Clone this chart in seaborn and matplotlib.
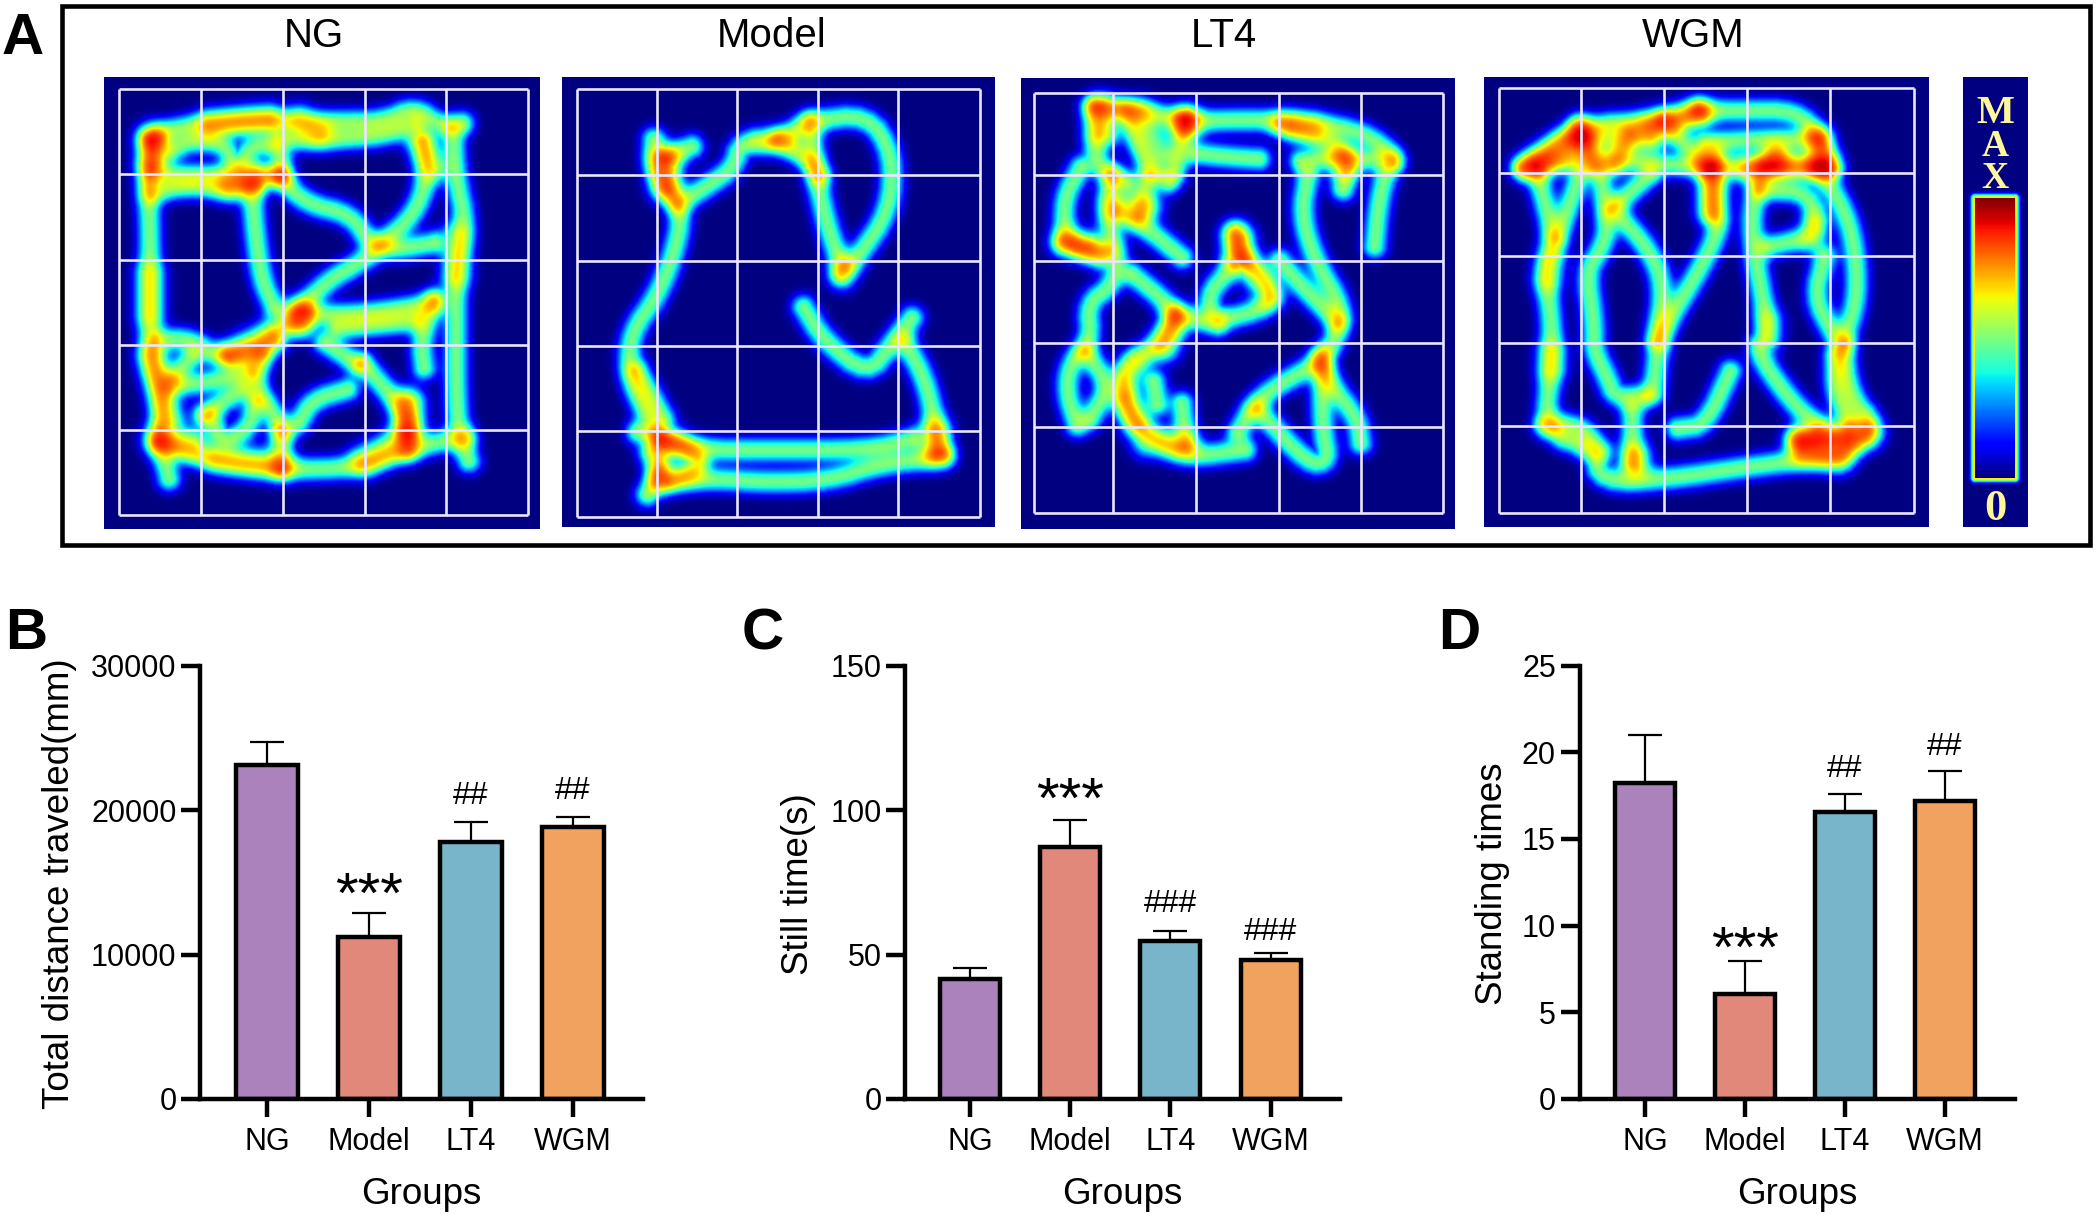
import numpy as np
import pandas as pd
import matplotlib
matplotlib.use("Agg")
import matplotlib.pyplot as plt
import seaborn as sns
from matplotlib.patches import Rectangle

sns.set_theme(style="ticks")
plt.rcParams["font.family"] = ["Liberation Sans", "DejaVu Sans"]

W, H = 2095, 1214
groups = ["NG", "Model", "LT4", "WGM"]
bar_colors = ["#AC82BC", "#E2887B", "#78B5CA", "#F2A25F"]

distance_mean = [23130, 11200, 17800, 18850]
distance_err = [1570, 1700, 1350, 700]
still_mean = [41.4, 87.2, 54.7, 48.1]
still_err = [3.8, 9.2, 3.6, 2.5]
standing_mean = [18.24, 6.08, 16.57, 17.2]
standing_err = [2.76, 1.9, 1.03, 1.74]

# Activity tracks (crop pixel units)
ng_tracks = [
    [(240,400),(230,500),(235,620),(235,760),(235,880),(235,1000),(255,1120),(250,1230),(265,1340)],
    [(235,390),(270,360),(340,345),(415,335),(490,345),(530,340),(600,340),(650,300),(690,350),(725,345)],
    [(440,390),(520,390),(600,380),(650,350)],
    [(665,400),(670,500),(650,600),(600,680),(570,730),(510,790),(465,880),(420,950),(360,990)],
    [(710,370),(715,500),(730,620),(715,760),(715,900),(715,1100),(720,1220),(735,1290)],
    [(250,1240),(330,1290),(440,1315),(560,1310),(620,1270),(680,1240),(730,1225)],
    [(240,490),(290,490),(400,490),(440,490)],
    [(270,420),(300,395),(350,400),(370,470),(400,400),(440,420),(440,490)],
    [(240,540),(290,520),(360,530),(400,520)],
    [(395,530),(400,650),(410,780),(430,860)],
    [(440,500),(480,570),(550,600),(580,680),(620,700),(680,680)],
    [(490,880),(570,880),(680,850)],
    [(530,920),(650,900)],
    [(680,840),(660,960),(665,1030)],
    [(510,960),(560,1020)],
    [(250,950),(300,950),(340,1000),(400,1000),(430,960)],
    [(410,1000),(400,1080),(430,1160),(445,1210)],
    [(270,1080),(330,1070),(390,1040)],
    [(320,1160),(380,1090)],
    [(300,1000),(275,1050)],
    [(330,1170),(350,1240),(390,1200),(400,1130)],
    [(470,1180),(490,1120),(545,1090)],
    [(570,1020),(610,1100),(640,1170),(640,1260)],
    [(440,1210),(440,1310)],
]
ng_hot = [
    ([(240,390),(240,450)],1.0), ([(330,350),(420,335)],.7), ([(470,335),(500,370)],.5),
    ([(660,400),(680,470)],.6), ([(715,660),(715,770)],.45), ([(235,770),(235,880)],.4),
    ([(240,1000),(265,1170)],.7), ([(250,1230),(300,1240)],.8), ([(340,1280),(440,1300)],.6),
    ([(640,1130),(640,1200)],1.1), ([(630,1230),(570,1290)],.7), ([(360,990),(420,930)],.4),
    ([(470,880),(470,900)],1.3), ([(360,520),(400,490)],.6),
]

model_tracks = [
    [(1025,390),(1025,470),(1045,520),(1070,600),(1055,720),(1030,830),(990,930),(985,1040),(1010,1150),(1030,1210),(1040,1280),(1030,1350),(1015,1385)],
    [(1000,1040),(1040,1170)],
    [(1065,570),(1110,520),(1150,470),(1160,400),(1220,395),(1270,340),(1360,320),(1400,430),(1395,590),(1345,720),(1320,770)],
    [(1270,340),(1280,500),(1300,650),(1320,740)],
    [(1220,395),(1270,450),(1285,490)],
    [(1045,440),(1085,410)],
    [(1260,860),(1290,950),(1360,1050),(1400,960),(1430,890)],
    [(1420,960),(1450,1060),(1465,1170),(1475,1260)],
    [(1000,1210),(1100,1260),(1200,1260),(1360,1260),(1430,1230)],
    [(1030,1350),(1120,1340),(1200,1350),(1300,1345),(1380,1300),(1480,1280)],
    [(1040,1230),(1090,1270),(1100,1310),(1050,1345)],
    [(1020,1270),(1030,1310)],
]
model_hot = [([(1045,450),(1045,520)],1.1), ([(1465,1210),(1465,1260)],.8), ([(1060,1240),(1085,1290)],.3),
             ([(1190,395),(1240,395)],.25), ([(1320,750),(1320,770)],.25)]

lt4_tracks = [
    [(135,300),(135,440),(155,490),(180,510)],
    [(135,300),(200,310),(265,340),(350,335),(440,340),(520,370),(565,440),(550,490),(540,580),(535,690)],
    [(265,340),(250,480)],
    [(180,310),(210,470),(240,510)],
    [(280,430),(330,440),(370,445)],
    [(400,350),(430,370),(480,400),(500,450),(490,530)],
    [(430,450),(470,440),(560,450)],
    [(115,470),(90,560),(95,680),(140,720)],
    [(160,490),(150,600),(170,720),(160,800),(125,850),(130,950),(100,1020),(95,1100),(110,1190)],
    [(170,600),(210,640),(260,720)],
    [(210,500),(200,600)],
    [(440,490),(430,600),(450,730),(490,860),(480,950),(460,1000),(470,1070),(510,1170),(515,1240)],
    [(400,730),(430,800),(480,900)],
    [(90,680),(150,700)],
    [(190,770),(240,850),(250,900),(225,970),(180,1020),(175,1100),(190,1180),(230,1240),(270,1280),(350,1260)],
    [(125,990),(155,1080),(130,1170)],
    [(335,650),(345,720),(385,790),(385,860),(310,900),(295,830),(330,750)],
    [(255,880),(310,910)],
    [(260,1130),(265,1240)],
    [(220,1070),(225,1130)],
    [(340,1210),(370,1110),(450,1020)],
    [(460,1000),(460,1200),(470,1290),(440,1300),(370,1150)],
]
lt4_hot = [
    ([(150,310),(150,370)],.8), ([(200,320),(230,430)],.6), ([(265,340),(265,350)],1.1),
    ([(340,670),(340,710)],1.0), ([(350,740),(385,830)],.5), ([(170,570),(210,580)],.6),
    ([(95,675),(125,685)],.5), ([(485,450),(490,475)],.5), ([(420,355),(445,360)],.4),
    ([(180,1120),(195,1180)],.7), ([(250,900),(235,970)],.7), ([(195,1020),(180,1060)],.4),
    ([(210,1240),(265,1240)],.5),
]

wgm_tracks = [
    [(750,470),(830,350),(950,340),(1000,310)],
    [(750,470),(850,440),(1000,470),(1180,470)],
    [(830,350),(850,460)],
    [(950,340),(1010,470)],
    [(900,380),(880,460)],
    [(1000,310),(1060,310),(1140,310),(1170,380),(1190,470)],
    [(1010,400),(1080,390),(1170,390)],
    [(1020,470),(1020,600),(1030,640),(1000,760),(950,920),(940,1000),(935,1100)],
    [(1090,470),(1075,600),(1080,720),(1090,820),(1100,940),(1080,980),(1130,1120),(1170,1190)],
    [(1090,530),(1160,540),(1170,660),(1100,690)],
    [(1170,470),(1210,590),(1225,720),(1225,850),(1205,960),(1215,1100),(1250,1190),(1210,1280),(1140,1290),(1060,1310),(960,1340),(860,1350),(850,1260),(780,1210),(790,1000),(790,900),(780,760),(795,680),(770,490)],
    [(800,660),(830,490)],
    [(860,490),(870,640),(860,700),(840,760),(850,900),(850,980),(870,1060),(880,1110),(920,1110)],
    [(880,590),(930,700),(950,800),(940,950)],
    [(930,490),(890,560)],
    [(1180,720),(1165,830),(1190,930),(1205,960)],
    [(780,1190),(830,1190),(860,1260)],
    [(905,1150),(905,1290)],
    [(970,1200),(1010,1190),(1045,1040)],
    [(1195,1000),(1195,1100),(1215,1180)],
    [(1140,1230),(1210,1230)],
]
wgm_hot = [
    ([(770,460),(830,390)],.9), ([(830,390),(930,390)],.7), ([(930,360),(1000,320)],.7),
    ([(1020,440),(1020,590)],.8), ([(1110,440),(1110,450)],1.1), ([(1070,470),(1180,460)],.6),
    ([(1170,390),(1170,460)],.6), ([(1150,1230),(1240,1210)],1.0), ([(1150,1260),(1200,1280)],.8),
    ([(910,1280),(910,1300)],.7), ([(790,990),(790,1030)],.4), ([(1165,630),(1165,670)],.4),
    ([(790,720),(785,780)],.4), ([(1100,900),(1100,950)],.3),
]

heat_panels = [
    dict(title="NG", title_x=314, box=(104,77,540,529), crop=(1.568,0), tracks=ng_tracks, hot=ng_hot,
         gx=[187,315,443,572,700,828], gy=[248,488,727,965,1203,1442]),
    dict(title="Model", title_x=772, box=(562,77,995,527), crop=(1.568,0), tracks=model_tracks, hot=model_hot,
         gx=[904,1030,1156,1282,1408,1536], gy=[248,490,730,968,1208,1447]),
    dict(title="LT4", title_x=1224, box=(1021,78,1455,529), crop=(1.428,1000), tracks=lt4_tracks, hot=lt4_hot,
         gx=[48,162,280,398,516,632], gy=[260,490,730,960,1196,1437]),
    dict(title="WGM", title_x=1693, box=(1484,77,1929,527), crop=(1.428,998.5), tracks=wgm_tracks, hot=wgm_hot,
         gx=[714,832,951,1069,1188,1308], gy=[247,483,717,960,1193,1437]),
]
CROP_FY = 2.8
SIGMA_TRACK = 7.8
SIGMA_HOT = 10.0
AMP_TRACK = 0.66

fig = plt.figure(figsize=(W/100, H/100), dpi=100, facecolor="white")

def add_px_axes(x0, y0, x1, y1):
    return fig.add_axes([x0/W, 1-y1/H, (x1-x0)/W, (y1-y0)/H])

def rounded(pts, n=2):
    # corner rounding of a read track, as the tracker's smoothing would give
    for _ in range(n):
        a, b = pts[:-1], pts[1:]
        mid = np.empty((2*len(a), 2))
        mid[0::2] = 0.75*a + 0.25*b
        mid[1::2] = 0.25*a + 0.75*b
        pts = np.vstack([pts[:1], mid, pts[-1:]])
    return pts

def stroke(X, Y, track, fx, ox, x0, y0, sigma):
    pts = np.array(track, dtype=float)
    pts = np.column_stack([pts[:,0]/fx + ox - x0, pts[:,1]/CROP_FY - y0])
    pts = rounded(pts)
    d2 = np.full_like(X, 1e9)
    for (ax_, ay_), (bx_, by_) in zip(pts[:-1], pts[1:]):
        dx, dy = bx_-ax_, by_-ay_
        t = np.clip(((X-ax_)*dx + (Y-ay_)*dy)/max(dx*dx+dy*dy, 1e-6), 0, 1)
        d2 = np.minimum(d2, (X-ax_-t*dx)**2 + (Y-ay_-t*dy)**2)
    return np.exp(-d2/(2*sigma**2))

def density(panel):
    x0, y0, x1, y1 = panel["box"]
    fx, ox = panel["crop"]
    X, Y = np.meshgrid(np.arange(x1-x0)+0.5, np.arange(y1-y0)+0.5)
    total = np.zeros_like(X, dtype=float)
    for track in panel["tracks"]:
        total += AMP_TRACK*stroke(X, Y, track, fx, ox, x0, y0, SIGMA_TRACK)
    for track, a in panel["hot"]:
        total += a*stroke(X, Y, track, fx, ox, x0, y0, SIGMA_HOT)
    return 1-np.exp(-total)

for p in heat_panels:
    x0, y0, x1, y1 = p["box"]
    fx, ox = p["crop"]
    ax = add_px_axes(x0, y0, x1, y1)
    sns.heatmap(density(p), ax=ax, cmap="jet", vmin=0, vmax=1, cbar=False,
                xticklabels=False, yticklabels=False)
    gx = np.array(p["gx"])/fx + ox - x0
    gy = np.array(p["gy"])/CROP_FY - y0
    ax.vlines(gx, gy[0], gy[-1], color="#E9E6FF", lw=1.9)
    ax.hlines(gy, gx[0], gx[-1], color="#E9E6FF", lw=1.9)
    fig.text(p["title_x"]/W, 1-36/H, p["title"], ha="center", va="center", fontsize=29, color="black")

# Colour scale panel
cx0, cy0, cx1, cy1 = 1963, 77, 2028, 527
ix0, iy0, ix1, iy1 = 1975, 198, 2015, 478
Xc, Yc = np.meshgrid(np.arange(cx0, cx1)+0.5, np.arange(cy0, cy1)+0.5)
ddx = np.maximum(np.maximum(ix0-Xc, Xc-ix1), 0)
ddy = np.maximum(np.maximum(iy0-Yc, Yc-iy1), 0)
dist = np.hypot(ddx, ddy)
scale_img = 0.66*np.exp(-(dist-0.5).clip(0)**2/(2*2.6**2))
inside = dist == 0
scale_img[inside] = ((iy1-Yc)/(iy1-iy0))[inside]
axc = add_px_axes(cx0, cy0, cx1, cy1)
sns.heatmap(scale_img, ax=axc, cmap="jet", vmin=0, vmax=1, cbar=False, xticklabels=False, yticklabels=False)
for ch, yc, fs in zip(["M", "A", "X", "0"], [109, 142, 175, 505], [29, 27, 27, 32]):
    fig.text(1995/W, 1-yc/H, ch, ha="center", va="center_baseline", fontsize=fs, fontweight="bold",
             family=["Liberation Serif"], color="#FFF59A")

# Frame of panel A
fig.add_artist(Rectangle((62/W, 1-545/H), (2090-62)/W, (545-6)/H, transform=fig.transFigure,
                         fill=False, edgecolor="black", lw=3.3))

# Bar panels
bar_panels = [
    dict(letter="B", letter_x=5, spine=200, end=643, first=267, step=102, mean=distance_mean, err=distance_err,
         ymax=30000, ticks=[0,10000,20000,30000], ylabel="Total distance traveled(mm)", ylab_x=60, xlab_x=421,
         stars=14810, hash_labels=["##","##"], hash_y=[21180,21560]),
    dict(letter="C", letter_x=742, spine=905, end=1340, first=970, step=100.2, mean=still_mean, err=still_err,
         ymax=150, ticks=[0,50,100,150], ylabel="Still time(s)", ylab_x=799, xlab_x=1122,
         stars=106.9, hash_labels=["###","###"], hash_y=[68.6,59]),
    dict(letter="D", letter_x=1438, spine=1579.5, end=2015, first=1645, step=100, mean=standing_mean, err=standing_err,
         ymax=25, ticks=[0,5,10,15,20,25], ylabel="Standing times", ylab_x=1493, xlab_x=1797,
         stars=9.22, hash_labels=["##","##"], hash_y=[19.2,20.5]),
]
top_px, bot_px = 665.5, 1099
for p in bar_panels:
    ax = add_px_axes(p["spine"], top_px, p["end"], bot_px)
    df = pd.DataFrame({"group": groups, "value": p["mean"]})
    sns.barplot(data=df, x="group", y="value", hue="group", palette=bar_colors, saturation=1, width=0.6,
                edgecolor="black", linewidth=3.2, errorbar=None, legend=False, ax=ax)
    ax.errorbar(range(4), p["mean"], yerr=[np.zeros(4), p["err"]], fmt="none", ecolor="black",
                elinewidth=1.6, capsize=12, capthick=1.6, zorder=0.5, clip_on=False)
    ax.set_xlim((p["spine"]-p["first"])/p["step"], (p["end"]-p["first"])/p["step"])
    ax.set_ylim(0, p["ymax"])
    ax.set_yticks(p["ticks"])
    ax.patch.set_alpha(0)
    for s in ["top", "right"]:
        ax.spines[s].set_visible(False)
    for s in ["left", "bottom"]:
        ax.spines[s].set_linewidth(3.2)
        ax.spines[s].set_color("black")
    ax.tick_params(axis="y", length=13.5, width=3.2, labelsize=22, pad=3.5, color="black", labelcolor="black")
    ax.tick_params(axis="x", length=13, width=3.2, labelsize=22, pad=7.5, color="black", labelcolor="black")
    ax.set_xlabel("")
    ax.set_ylabel("")
    fig.text(p["xlab_x"]/W, 1-1194/H, "Groups", ha="center", va="center", fontsize=26.5, color="black")
    fig.text(p["ylab_x"]/W, 1-884/H, p["ylabel"], ha="center", va="center", rotation=90, fontsize=26.5, color="black")
    fig.text(p["letter_x"]/W, 1-649/H, p["letter"], ha="left", va="baseline", fontsize=42, fontweight="bold", color="black")
    ax.annotate("***", (1, p["stars"]), xytext=(0, -20), textcoords="offset points", ha="center", va="baseline",
                fontsize=42, annotation_clip=False, color="black")
    for xpos, lab, yv in zip([2, 3], p["hash_labels"], p["hash_y"]):
        ax.annotate(lab, (xpos, yv), xytext=(0, -8), textcoords="offset points", ha="center", va="baseline",
                    fontsize=23, annotation_clip=False, color="black")

fig.text(2/W, 1-54/H, "A", ha="left", va="baseline", fontsize=42, fontweight="bold", color="black")

fig.savefig("out.png", dpi=100, facecolor="white")
